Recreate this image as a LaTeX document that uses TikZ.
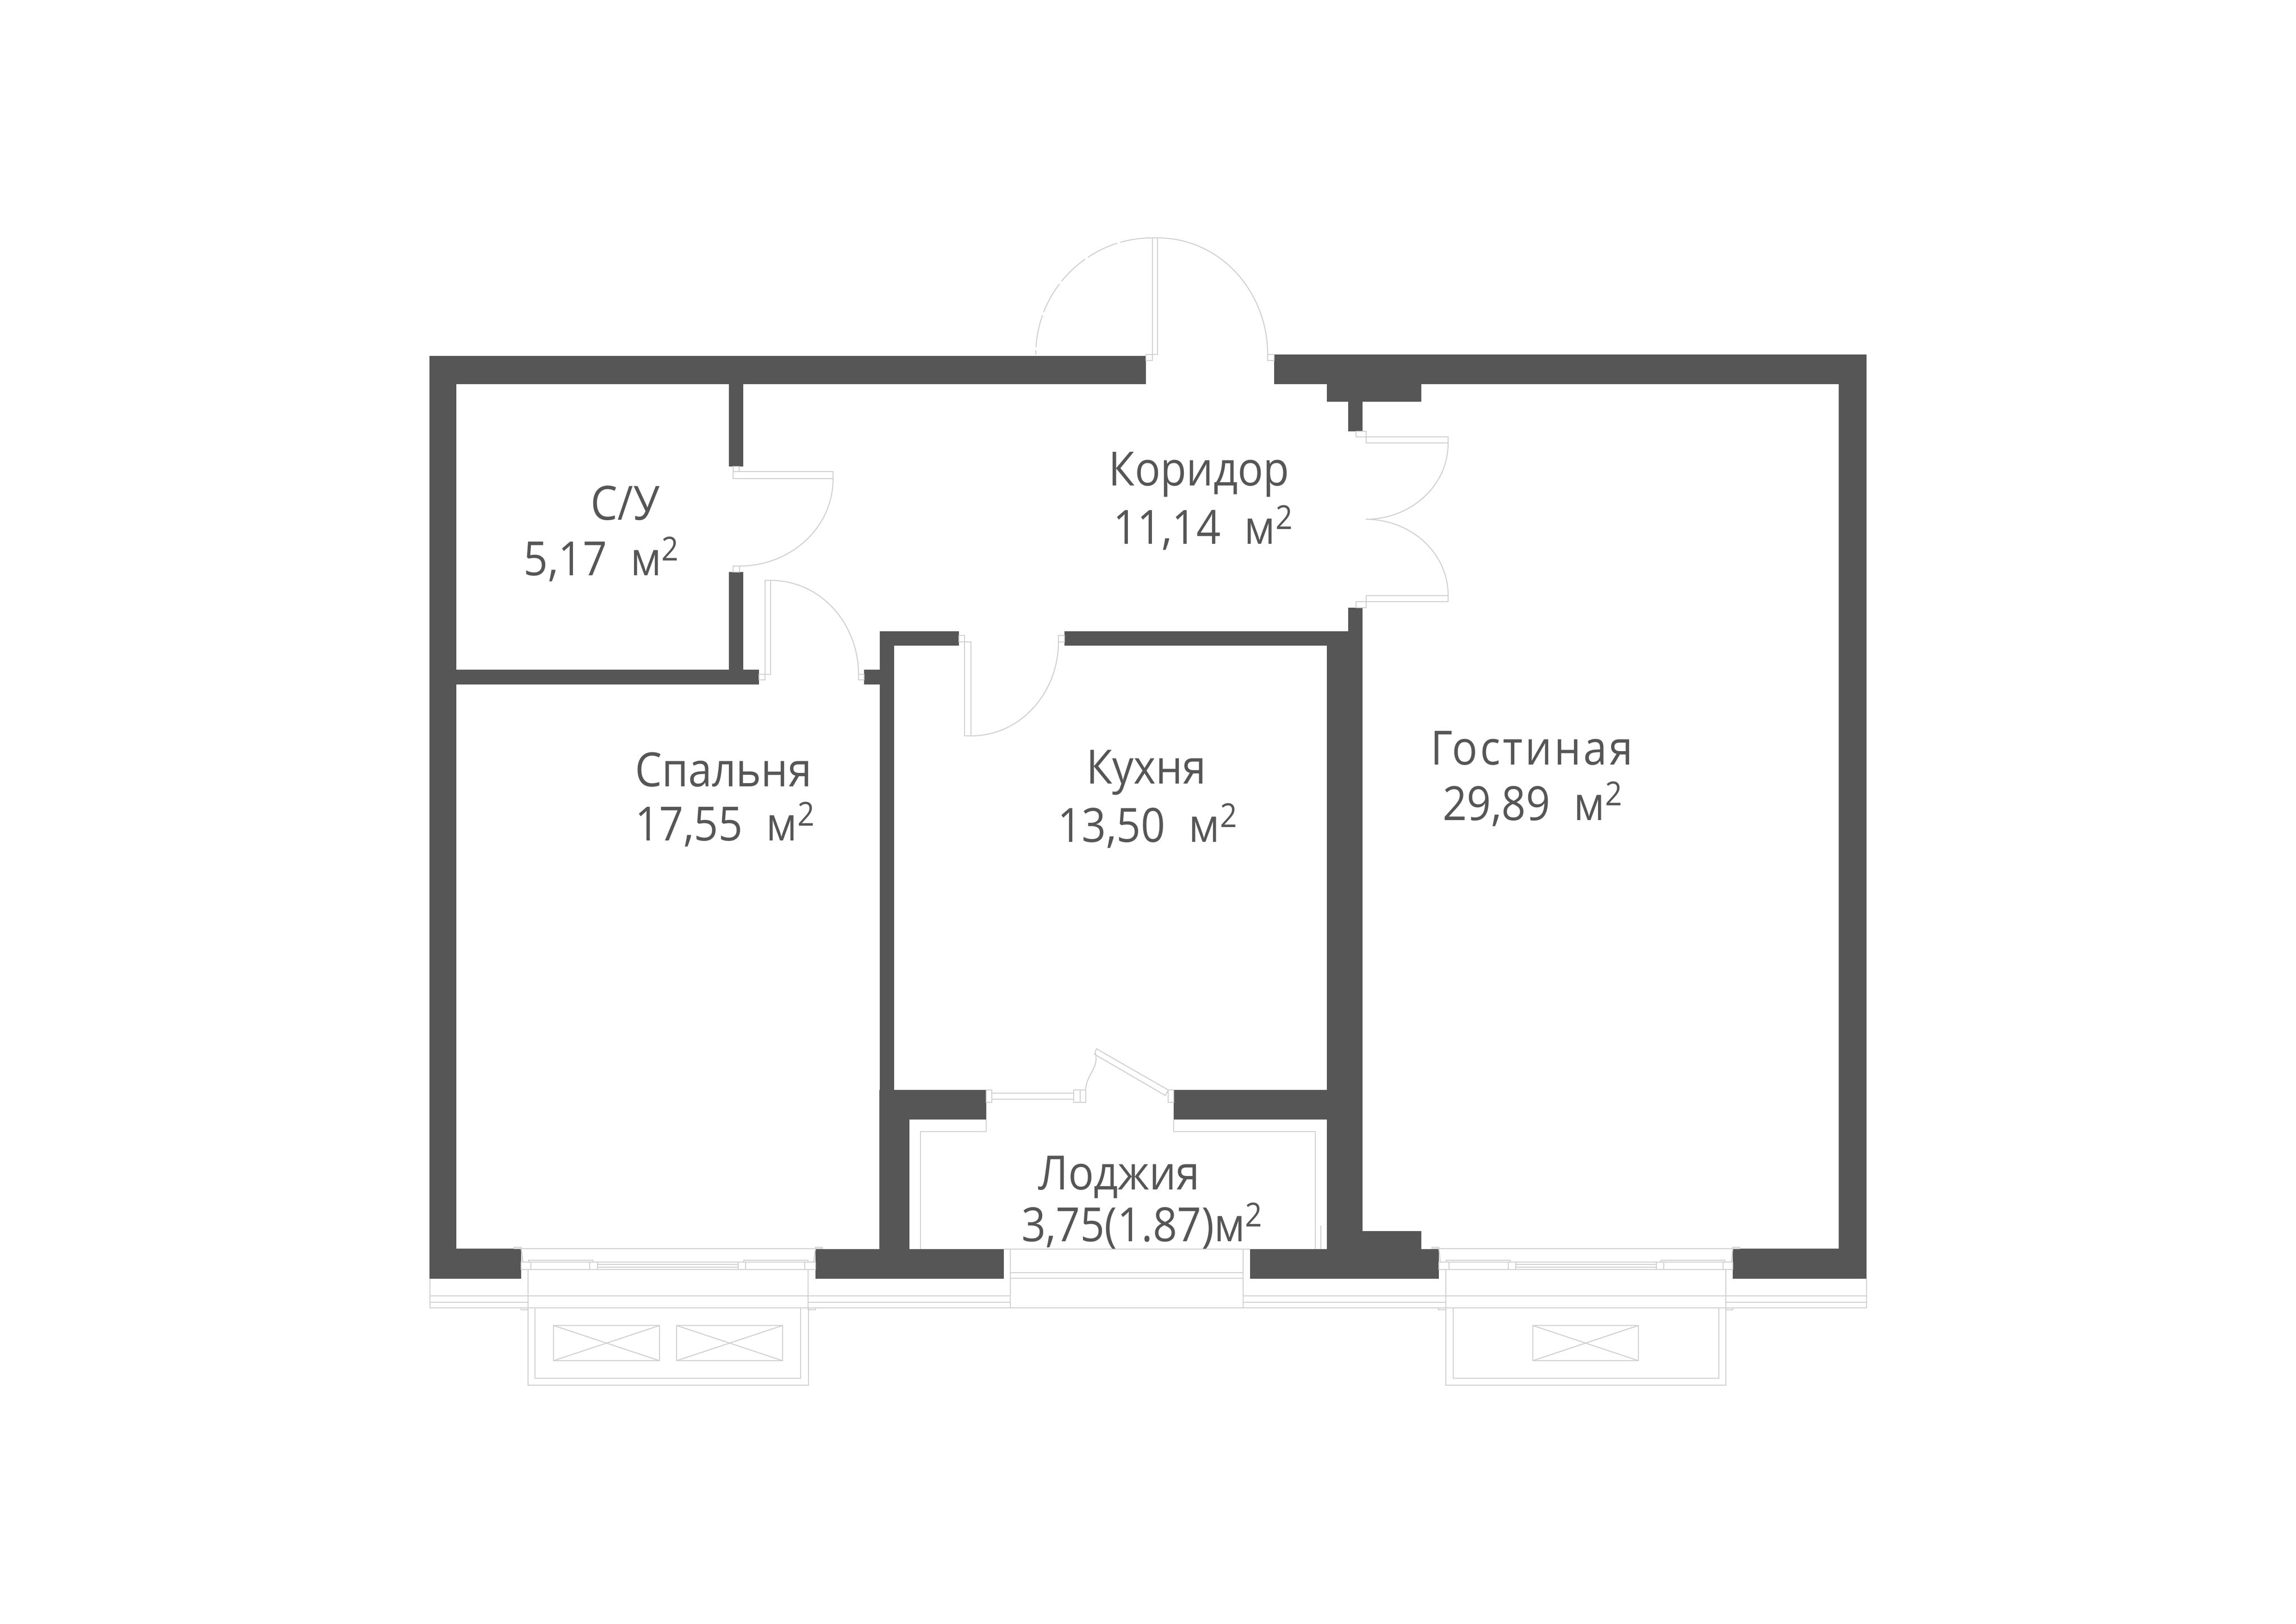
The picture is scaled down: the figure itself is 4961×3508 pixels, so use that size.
\documentclass[tikz,border=0pt]{standalone}
\usepackage{fontspec}
\setmainfont{Open Sans}[FakeStretch=0.9]
\definecolor{walldark}{HTML}{565656}
\definecolor{thinline}{HTML}{CFCFCF}
\tikzset{
  wall/.style={fill=walldark,draw=none},
  fine/.style={draw=thinline,line width=0.6pt},
  roomname/.style={anchor=base,inner sep=0pt,text=walldark,font=\fontsize{29}{35}\selectfont},
}
\newcommand{\sqm}{\enspace м\textsuperscript{2}}

\begin{document}
\begin{tikzpicture}[x=0.01cm,y=-0.01cm]
      \useasboundingbox (0,0) rectangle (4961,3508) ;
      % walls
      \foreach \xa/\ya/\xb/\yb in {928/769/2476/830,2753/766/4033/830,928/769/986/2763,3973/769/4033/2763,
        2867/766/3071/868,2913/868/2944/932,1575/830/1606/1008,1575/1236/1606/1479,986/1447/1640/1479,
        1867/1447/1932/1479,1901/1364/1932/2763,1901/1364/2072/1395,2300/1364/2944/1395,2913/1313/2944/1395,
        2867/1364/2944/2763,2867/2660/3071/2763,1900/2355/1965/2763,1900/2355/2131/2419,2536/2355/2867/2419,
        928/2698/1126/2763,1762/2699/2169/2763,2701/2699/3109/2763,3744/2698/4033/2763}
        \fill[wall] (\xa,\ya) rectangle (\xb,\yb) ;
      % door leaves, jambs and window frames
      \foreach \xa/\ya/\xb/\yb in {1584/1008/1597/1019,1584/1019/1800/1034,1584/1223/1598/1236,
        1653/1254/1665/1457,1640/1457/1653/1469,1855/1457/1867/1469,2072/1373/2084/1387,2084/1387/2098/1590,
        2287/1373/2300/1387,2476/766/2490/779,2490/514/2501/766,2739/766/2753/779,2930/932/2952/944,
        2952/944/3129/957,2952/1287/3129/1300,2930/1300/2952/1313,
        2131/2355/2143/2382,2143/2362/2320/2375,2320/2355/2334/2382,2334/2355/2346/2382,2524/2355/2536/2382,
        1126/2727/1147/2743,1147/2727/1274/2743,1274/2727/1291/2743,1291/2727/1595/2743,1595/2727/1611/2743,
        1611/2727/1739/2743,1739/2727/1762/2743,1142/2723/1281/2727,1607/2723/1746/2727,
        3109/2727/3131/2743,3131/2727/3259/2743,3259/2727/3275/2743,3275/2727/3579/2743,3579/2727/3595/2743,
        3595/2727/3723/2743,3723/2727/3744/2743,3125/2723/3263/2727,3589/2723/3727/2727,
        1111/2695/1126/2698,1762/2695/1777/2698,3094/2695/3109/2698,3744/2695/3759/2698,
        1126/2826/1141/2830,1746/2826/1762/2830,3108/2826/3124/2830,3729/2826/3744/2830,
        1141/2826/1747/2993,1156/2826/1730/2978,3124/2826/3729/2993,3140/2826/3714/2978}
        \draw[fine] (\xa,\ya) rectangle (\xb,\yb) ;
      % boxes on the balconies
      \foreach \xa/\xb in {1196/1425,1462/1691,3312/3540} {
        \draw[fine] (\xa,2864) rectangle (\xb,2940) ;
        \draw[fine] (\xa,2864) -- (\xb,2940) (\xa,2940) -- (\xb,2864) ;
      }
      % long window lines
      \foreach \xa/\xb in {1126/1762,3109/3744}
        \draw[fine] (\xa,2698) -- (\xb,2698) ;
      \foreach \ya in {2732,2738} {
        \draw[fine] (1291,\ya) -- (1595,\ya) ;
        \draw[fine] (3275,\ya) -- (3579,\ya) ;
      }
      \foreach \ya in {2800,2814} {
        \draw[fine] (929,\ya) -- (1141,\ya) (1746,\ya) -- (2183,\ya) (2686,\ya) -- (3124,\ya) (3729,\ya) -- (4033,\ya) ;
      }
      \draw[fine] (1141,2800) -- (1746,2800) (3124,2800) -- (3729,2800) ;
      \draw[fine] (929,2763) -- (929,2826) -- (4033,2826) -- (4033,2763) ;
      \draw[fine] (1126,2698) -- (1130,2727) (1762,2698) -- (1758,2727) (3109,2698) -- (3112,2727) (3744,2698) -- (3741,2727) ;
      \draw[fine] (1141,2743) -- (1141,2826) (1746,2743) -- (1746,2826) (3124,2743) -- (3124,2826) (3729,2743) -- (3729,2826) ;
      % loggia lines
      \draw[fine] (2131,2419) -- (2131,2445) -- (1989,2445) -- (1989,2699) ;
      \draw[fine] (2536,2419) -- (2536,2445) -- (2842,2445) -- (2842,2699) ;
      \draw[fine] (2854,2648) -- (2854,2699) ;
      \draw[fine] (2169,2699) -- (2701,2699) ;
      \draw[fine] (2183,2699) -- (2183,2826) (2686,2699) -- (2686,2826) ;
      \draw[fine] (2183,2750) -- (2686,2750) (2183,2762) -- (2686,2762) ;
      % loggia door
      \draw[fine] (2369,2266) -- (2524,2355) -- (2518,2367) -- (2365,2278) -- cycle ;
      \draw[fine] (2346,2355) to[out=90,in=-75] (2367,2276) ;
      % door swings
      \draw[fine] (1800,1034) to[out=-90,in=0] (1598,1223) ;
      \draw[fine] (1665,1254) to[out=0,in=90] (1855,1457) ;
      \draw[fine] (2098,1590) to[out=0,in=-90] (2287,1387) ;
      \draw[fine] (2501,514) to[out=0,in=90] (2739,766) ;
      \draw[fine,dash pattern=on 20pt off 2pt] (2490,514) to[out=180,in=90] (2238,766) ;
      \draw[fine] (3129,957) to[out=-90,in=0] (2951,1122) ;
      \draw[fine] (2951,1122) to[out=0,in=90] (3129,1287) ;
      % room labels
      \node[roomname] (bathname) at (1351,1123) {С/У} ;
      \node[roomname] (batharea) at (1300,1243) {5,17\sqm} ;
      \node[roomname] (hallname) at (2591,1049) {Коридор} ;
      \node[roomname] (hallarea) at (2600,1175) {11,14\sqm} ;
      \node[roomname] (bedname) at (1563,1699) {Спальня} ;
      \node[roomname] (bedarea) at (1567,1816) {17,55\sqm} ;
      \node[roomname] (kitchenname) at (2477,1693) {Кухня} ;
      \node[roomname] (kitchenarea) at (2480,1819) {13,50\sqm} ;
      \node[roomname] (livingname) at (3310,1652) {\addfontfeature{LetterSpace=5}Гостиная} ;
      \node[roomname] (livingarea) at (3312,1772) {29,89\sqm} ;
      \node[roomname] (loggianame) at (2418,2570) {Лоджия} ;
      \node[roomname] (loggiaarea) at (2468,2682) {3,75(1.87)м\textsuperscript{2}} ;
    \end{tikzpicture}
\end{document}
